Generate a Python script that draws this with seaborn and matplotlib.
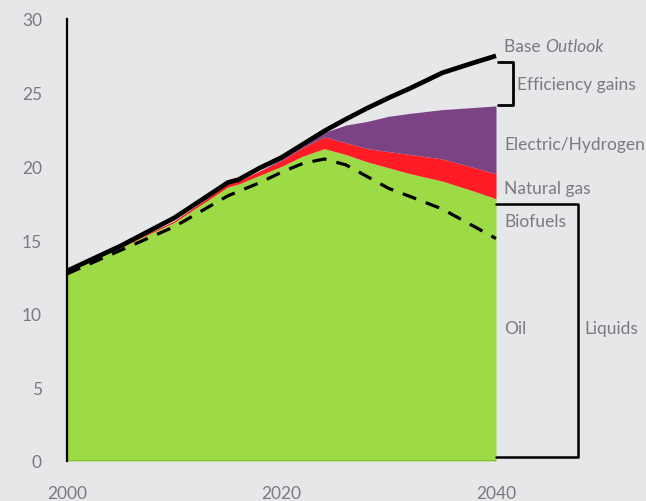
import numpy as np
import pandas as pd
import matplotlib
matplotlib.use("Agg")
import matplotlib.pyplot as plt
import seaborn as sns

# Transport energy demand (Mb/d oil equivalent) by source
years = [2000, 2005, 2010, 2015, 2016, 2018, 2020, 2022, 2024, 2026, 2028, 2030, 2032, 2035, 2038, 2040]
oil = [12.7, 14.3, 15.9, 18.0, 18.3, 18.9, 19.6, 20.2, 20.5, 20.1, 19.3, 18.5, 17.95, 17.1, 15.9, 15.1]
biofuels = [0.1, 0.2, 0.3, 0.6, 0.5, 0.5, 0.4, 0.5, 0.7, 0.7, 1.0, 1.4, 1.55, 1.9, 2.4, 2.7]
natural_gas = [0.0, 0.05, 0.1, 0.2, 0.2, 0.3, 0.4, 0.6, 0.8, 0.8, 0.9, 1.1, 1.3, 1.5, 1.6, 1.7]
electric_hydrogen = [0.0, 0.0, 0.0, 0.0, 0.0, 0.0, 0.1, 0.2, 0.3, 1.2, 1.85, 2.4, 2.8, 3.35, 4.1, 4.6]
base_outlook = [12.9, 14.6, 16.5, 18.9, 19.1, 19.9, 20.6, 21.5, 22.4, 23.2, 23.95, 24.65, 25.3, 26.35, 27.05, 27.5]

x_ticks = [2000, 2020, 2040]
y_ticks = [0, 5, 10, 15, 20, 25, 30]

df = pd.DataFrame({
    "year": years,
    "oil": oil,
    "biofuels": biofuels,
    "natural_gas": natural_gas,
    "electric_hydrogen": electric_hydrogen,
    "base": base_outlook,
})

BG = "#e6e7e9"
GREEN = "#9cdb46"
RED = "#ff1c24"
PURPLE = "#7b4284"
TEXT = "#7a7b7f"

sns.set_theme(style="white")
plt.rcParams["font.family"] = ["Lato", "DejaVu Sans"]

fig = plt.figure(figsize=(6.46, 5.02), dpi=100, facecolor=BG)
ax = fig.add_axes([67 / 646, 40 / 502, 1 - 67 / 646, 442 / 502])
ax.set_facecolor(BG)

px_per_year = 429 / 40
ax.set_xlim(2000, 2000 + (646 - 67) / px_per_year)
ax.set_ylim(0, 30)

# Stacked areas: liquids (oil + biofuels), natural gas, electric/hydrogen
liquids = df["oil"] + df["biofuels"]
ax.stackplot(df["year"], liquids, df["natural_gas"], df["electric_hydrogen"],
             colors=[GREEN, RED, PURPLE], linewidth=0, zorder=1)

# Oil only (dashed) and base outlook demand (solid)
sns.lineplot(data=df, x="year", y="oil", ax=ax, color="black",
             linewidth=2.3, linestyle=(0, (4.5, 3.2)), zorder=3)
sns.lineplot(data=df, x="year", y="base", ax=ax, color="black",
             linewidth=3.4, zorder=4, solid_capstyle="butt")

# Axes styling
for side in ["top", "right", "bottom"]:
    ax.spines[side].set_visible(False)
ax.spines["left"].set_color("black")
ax.spines["left"].set_linewidth(1.6)
ax.plot([2000, 2040], [0, 0], color="#4a3020", linewidth=1.0, zorder=2)

ax.set_xticks(x_ticks)
ax.set_yticks(y_ticks)
ax.tick_params(axis="both", length=0, labelsize=12.5, labelcolor=TEXT)
ax.tick_params(axis="y", pad=18)
ax.tick_params(axis="x", pad=17.5)
ax.set_xlabel("")
ax.set_ylabel("")

# Brackets
ax.plot([2040.2, 2041.6, 2041.6, 2040.2], [27.09, 27.09, 24.17, 24.17],
        color="black", linewidth=2.0, clip_on=False, zorder=5)
ax.plot([2040, 2047.65, 2047.65, 2040], [17.45, 17.45, 0.27, 0.27],
        color="black", linewidth=1.8, clip_on=False, zorder=5)

# Series labels
lab_kw = dict(color=TEXT, fontsize=12.5, va="center", ha="left")
t = ax.text(2040.75, 28.17, "Base ", **lab_kw)
fig.canvas.draw()
bb = t.get_window_extent()
x_after = ax.transData.inverted().transform((bb.x1, bb.y0))[0]
ax.text(x_after, 28.17, "Outlook", style="italic", **lab_kw)
ax.text(2041.96, 25.6, "Efficiency gains", **lab_kw)
ax.text(2040.75, 21.5, "Electric/Hydrogen", **lab_kw)
ax.text(2040.75, 18.53, "Natural gas", **lab_kw)
ax.text(2040.75, 16.29, "Biofuels", **lab_kw)
ax.text(2040.75, 9.03, "Oil", **lab_kw)
ax.text(2048.2, 9.03, "Liquids", **lab_kw)

fig.savefig("out.png", dpi=100, facecolor=BG)
